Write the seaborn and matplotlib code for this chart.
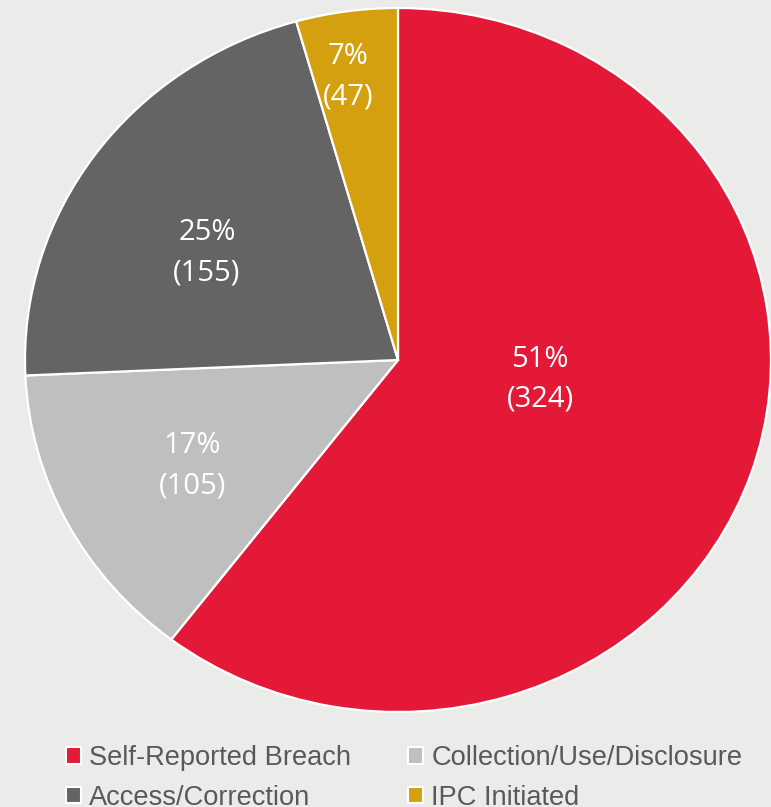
import matplotlib
matplotlib.use("Agg")
import matplotlib.pyplot as plt
import seaborn as sns
from matplotlib.patches import Patch

# ---- data ----
categories = ["Self-Reported Breach", "Collection/Use/Disclosure", "Access/Correction", "IPC Initiated"]
slice_share = [60.4, 13.9, 21.3, 4.4]          # drawn wedge sizes (as they appear)
pct_labels = ["51%", "17%", "25%", "7%"]
counts = [324, 105, 155, 47]
colors = ["#E31937", "#BFBFBF", "#646464", "#D5A00F"]

# layout for in-slice labels (data coords of the pie axes)
label_xy = [(0.381, -0.054), (-0.552, -0.301), (-0.512, 0.304), (-0.134, 0.804)]

sns.set_style("white")
bg = "#EBEBEA"
W, H = 771, 807
fig = plt.figure(figsize=(W / 100, H / 100), dpi=100, facecolor=bg)
ax = fig.add_axes([25 / W, (H - 712) / H, 746 / W, 704 / H])
ax.set_facecolor(bg)

wedges, _ = ax.pie(slice_share, colors=sns.color_palette(colors), startangle=90,
                   counterclock=False,
                   wedgeprops=dict(edgecolor="white", linewidth=1.6))
for w in wedges:
    w.set_clip_on(False)
ax.set_aspect("auto")
ax.set_xlim(-1, 1)
ax.set_ylim(-1, 1)
ax.axis("off")

for (x, y), p, c in zip(label_xy, pct_labels, counts):
    ax.text(x, y, f"{p}\n({c})", ha="center", va="center", color="white",
            fontsize=21, family="Open Sans", linespacing=1.5)

# legend (row-major order requires column-major handle order)
order = [0, 2, 1, 3]
handles = [Patch(facecolor=colors[i], edgecolor="white", linewidth=1.5) for i in order]
labels = [categories[i] for i in order]
leg = fig.legend(handles, labels, ncol=2, loc="upper left",
                 bbox_to_anchor=(66 / W, 1 - 745 / H), frameon=False,
                 prop=dict(family="Liberation Sans", size=19.6),
                 handlelength=0.55, handleheight=0.55, handletextpad=0.3,
                 columnspacing=2.1, labelspacing=0.5, borderpad=0, borderaxespad=0)
for t in leg.get_texts():
    t.set_color("#595959")

fig.savefig("out.png", dpi=100, facecolor=bg)
